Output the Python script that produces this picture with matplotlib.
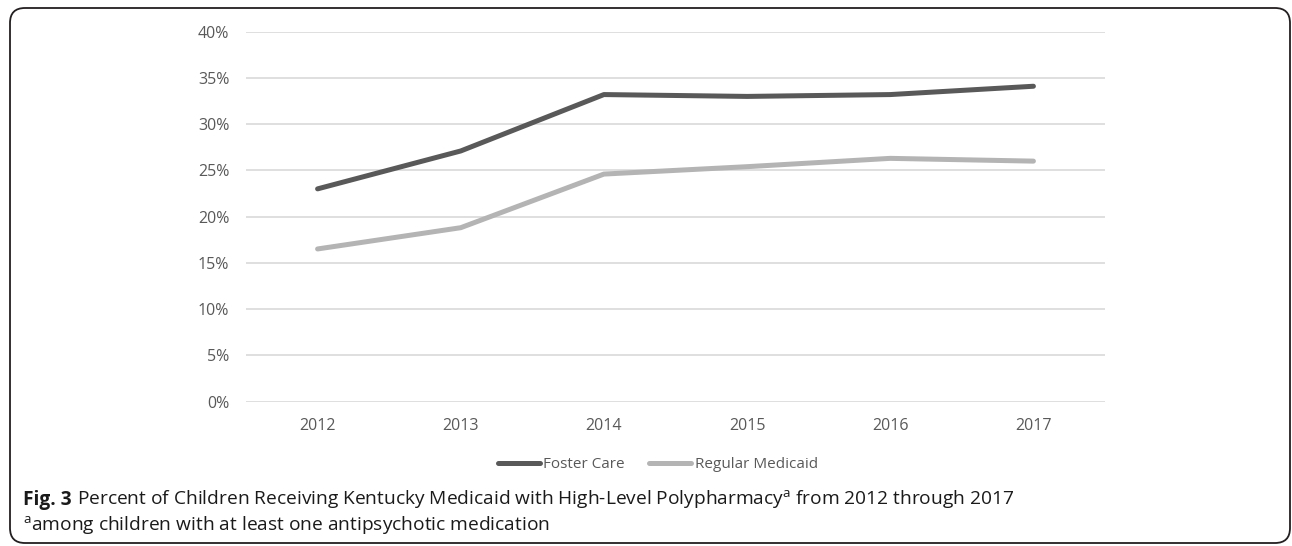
import matplotlib
matplotlib.use("Agg")
import matplotlib.pyplot as plt
from matplotlib.patches import FancyBboxPatch
from matplotlib.ticker import FuncFormatter

plt.rcParams['font.family'] = ['Open Sans', 'DejaVu Sans']
plt.rcParams['mathtext.fontset'] = 'custom'
plt.rcParams['mathtext.rm'] = 'Open Sans'
plt.rcParams['mathtext.bf'] = 'Open Sans:bold'

years = ['2012', '2013', '2014', '2015', '2016', '2017']
foster_care = [23.0, 27.1, 33.2, 33.0, 33.2, 34.1]
regular_medicaid = [16.5, 18.8, 24.6, 25.4, 26.3, 26.0]

fig = plt.figure(figsize=(12.92, 5.46), dpi=100)
ax = fig.add_axes([246 / 1292, 1 - 401.5 / 546, (1105 - 246) / 1292, (401.5 - 31.7) / 546])

x = range(len(years))
ax.plot(x, foster_care, color='#595959', lw=3.6, solid_capstyle='round', label='Foster Care')
ax.plot(x, regular_medicaid, color='#b4b4b4', lw=3.6, solid_capstyle='round', label='Regular Medicaid')

ax.set_xlim(-0.5, len(years) - 0.5)
ax.set_ylim(0, 40)
ax.set_yticks(range(0, 41, 5))
ax.yaxis.set_major_formatter(FuncFormatter(lambda v, p: '%d%%' % v))
ax.set_xticks(list(x))
ax.set_xticklabels(years)
ax.grid(axis='y', color='#d9d9d9', lw=1.2)
ax.set_axisbelow(True)
for s in ax.spines.values():
    s.set_visible(False)
ax.tick_params(axis='both', length=0, labelsize=11.5, labelcolor='#595959')
ax.tick_params(axis='y', pad=12)
ax.tick_params(axis='x', pad=12)

fig.legend(loc='center', bbox_to_anchor=(658 / 1292, 1 - 465 / 546), ncol=2, frameon=False,
           fontsize=11, labelcolor='#595959', handlelength=2.7, handletextpad=0.25,
           columnspacing=1.6)

# caption
cap = dict(fontsize=13.8, color='#1a1a1a', va='baseline')
t1 = fig.text(23 / 1292, 1 - 505 / 546, 'Fig. 3', fontweight='bold', **cap)
fig.canvas.draw()
bb = t1.get_window_extent()
fig.text((bb.x1 + 5) / 1292, 1 - 505 / 546,
         r'Percent of Children Receiving Kentucky Medicaid with '
         r'High-Level Polypharmacy$^{\mathrm{a}}$ from 2012 through 2017', **cap)
fig.text(23 / 1292, 1 - 531 / 546,
         r'$^{\mathrm{a}}$among children with at least one antipsychotic medication', **cap)

# rounded border
box = FancyBboxPatch((0.10, 0.03), 12.80, 5.35, boxstyle='round,pad=0,rounding_size=0.15',
                     transform=fig.dpi_scale_trans, fill=False, ec='#231f20', lw=1.3)
fig.patches.append(box)

fig.savefig('out.png', dpi=100)
